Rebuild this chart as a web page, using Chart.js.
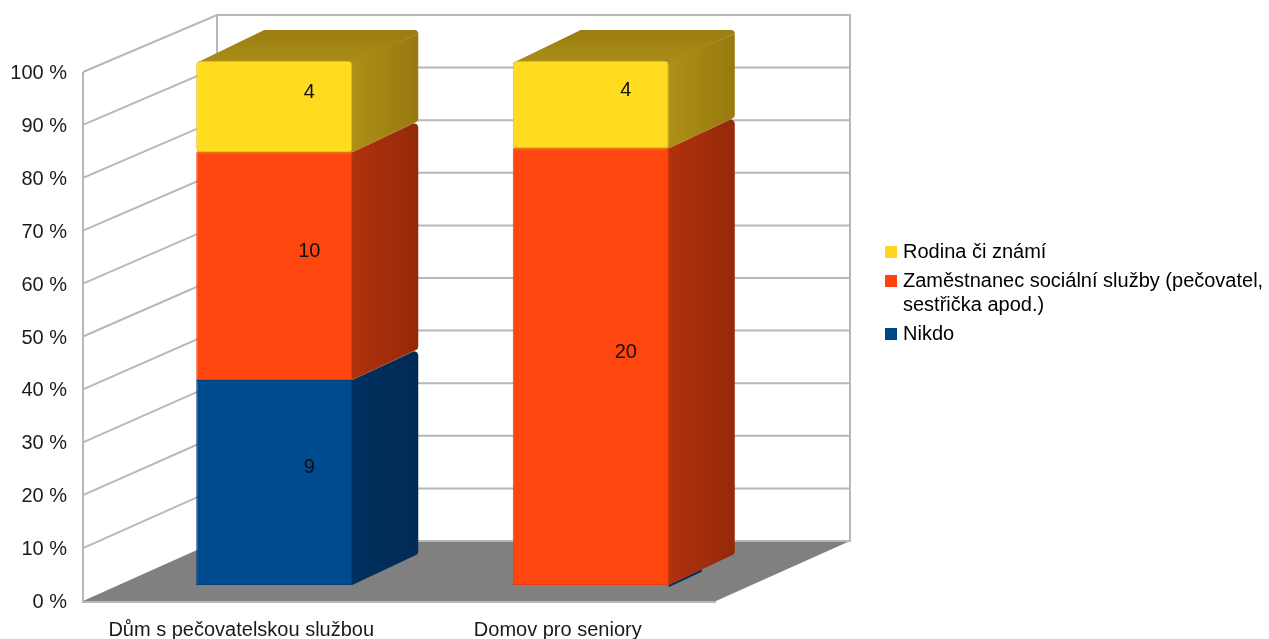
<!DOCTYPE html>
<html>
<head>
<meta charset="utf-8">
<style>html,body{margin:0;padding:0;background:#fff}canvas{display:block}</style>
<script src="https://cdn.jsdelivr.net/npm/chart.js@4/dist/chart.umd.min.js"></script>
</head>
<body>
<canvas id="c" width="1269" height="639"></canvas>
<script>
// Respondent counts per facility type
const categories = ['Dům s pečovatelskou službou', 'Domov pro seniory'];
const nikdo = [9, 0];
const zamestnanec = [10, 20];
const rodina = [4, 4];
const seriesNames = ['Nikdo', ['Zaměstnanec sociální služby (pečovatel,', 'sestřička apod.)'], 'Rodina či známí'];

// Palette: front face, then the shaded side from near edge to far edge
const frontColors = ['#004a8f', '#ff460e', '#ffdc1f'];
const edgeColors = ['#00407c', '#e83c0a', '#e0bc18'];
const sideNear = ['#00305f', '#b0320c', '#ad9018'];
const sideFar = ['#002b54', '#952909', '#97790f'];
const topNear = ['#00305f', '#b0320c', '#a98d16'];
const topFar = ['#002b54', '#952909', '#9b7c11'];

const rows = [nikdo, zamestnanec, rodina];
const totals = categories.map((_, i) => rows.reduce((s, r) => s + r[i], 0));
const share = r => r.map((v, i) => v / totals[i] * 100);

// Oblique projection: depth of a bar, and of the room behind the bars
const BAR_DX = 66, BAR_DY = -31;
const SHIFT_X = 33;
const ROOM_DX = 134, BACK_Y0 = 541, BACK_Y100 = 15;
const CORNER = 4;
const FONT = '"Liberation Sans", Arial, sans-serif';
const FS = 20;

const roomAndSides = {
  id: 'roomAndSides',
  afterLayout(chart) {
    // Park the legend in the free column to the right of the room
    const lg = chart.legend;
    lg.left = 884; lg.right = 1269; lg.top = 237; lg.bottom = 630;
  },
  beforeDatasetsDraw(chart) {
    const { ctx, chartArea: a, scales } = chart;
    const y = scales.y;
    const backRight = a.right + ROOM_DX, backLeft = a.left + ROOM_DX;
    const backY = v => BACK_Y0 + (BACK_Y100 - BACK_Y0) * v / 100;
    ctx.save();
    // floor
    ctx.fillStyle = '#808080';
    ctx.beginPath();
    ctx.moveTo(a.left, y.getPixelForValue(0));
    ctx.lineTo(a.right, y.getPixelForValue(0));
    ctx.lineTo(backRight, BACK_Y0);
    ctx.lineTo(backLeft, BACK_Y0);
    ctx.closePath();
    ctx.fill();
    // wall grid
    ctx.strokeStyle = '#b8b8b8';
    ctx.lineWidth = 2;
    ctx.lineJoin = 'miter';
    y.ticks.forEach(t => {
      ctx.beginPath();
      if (t.value > 0) ctx.moveTo(a.left, y.getPixelForValue(t.value));
      else ctx.moveTo(backLeft, backY(0));
      ctx.lineTo(backLeft, backY(t.value));
      ctx.lineTo(backRight, backY(t.value));
      ctx.stroke();
    });
    ctx.beginPath();
    ctx.moveTo(a.left, y.getPixelForValue(100));
    ctx.lineTo(a.left, y.getPixelForValue(0) + 1);
    ctx.lineTo(a.right, y.getPixelForValue(0) + 1);
    ctx.stroke();
    ctx.beginPath();
    ctx.moveTo(backLeft, backY(100));
    ctx.lineTo(backLeft, backY(0));
    ctx.moveTo(backRight, backY(100) - 1);
    ctx.lineTo(backRight, backY(0) + 1);
    ctx.stroke();

    // side and top faces, lower segments first
    ctx.translate(SHIFT_X, 0);
    const lastDrawn = categories.map((_, i) => rows.reduce((m, r, d) => (r[i] ? d : m), 0));
    chart.data.datasets.forEach((ds, d) => {
      chart.getDatasetMeta(d).data.forEach((el, i) => {
        const p = el.getProps(['x', 'y', 'base', 'width'], true);
        const L = p.x - p.width / 2, R = p.x + p.width / 2;
        const side = ctx.createLinearGradient(R, 0, R + BAR_DX, 0);
        side.addColorStop(0, sideNear[d]);
        side.addColorStop(1, sideFar[d]);
        if (!rows[d][i]) {
          // an empty segment only leaves a dark sliver along the bar's foot
          ctx.strokeStyle = side;
          ctx.lineWidth = 2;
          ctx.beginPath();
          ctx.moveTo(R, p.base + 1);
          ctx.lineTo(R + BAR_DX / 2, p.base + BAR_DY / 2 + 1);
          ctx.stroke();
          return;
        }
        const isTop = d === lastDrawn[i];
        ctx.fillStyle = side;
        ctx.beginPath();
        ctx.moveTo(R - 2, p.y);
        ctx.lineTo(R, p.y);
        if (isTop) ctx.lineTo(R + BAR_DX, p.y + BAR_DY + CORNER);
        else ctx.arcTo(R + BAR_DX, p.y + BAR_DY, R + BAR_DX, p.base + BAR_DY, CORNER);
        ctx.arcTo(R + BAR_DX, p.base + BAR_DY, R, p.base, CORNER);
        ctx.lineTo(R, p.base);
        ctx.lineTo(R - 2, p.base);
        ctx.closePath();
        ctx.fill();
        // backing strip so stacked segments meet without a pale seam
        if (rows.slice(0, d).some(r => r[i])) {
          ctx.fillStyle = edgeColors[d];
          ctx.fillRect(L + 1, p.base - 1.5, p.width - 2, 3);
        }
        if (!isTop) return;
        const top = ctx.createLinearGradient(0, p.y + BAR_DY, 0, p.y);
        top.addColorStop(0, topFar[d]);
        top.addColorStop(1, topNear[d]);
        ctx.fillStyle = top;
        ctx.beginPath();
        ctx.moveTo(L + 2, p.y + 1);
        ctx.lineTo(L + BAR_DX + 2, p.y + BAR_DY);
        ctx.arcTo(R + BAR_DX, p.y + BAR_DY, R + BAR_DX, p.y + BAR_DY + CORNER, CORNER);
        ctx.lineTo(R + BAR_DX, p.y + BAR_DY + CORNER);
        ctx.lineTo(R, p.y + 1);
        ctx.closePath();
        ctx.fill();
      });
    });
    ctx.restore();
    // front faces are drawn by the bar controller, shifted back into the room
    ctx.save();
    ctx.translate(SHIFT_X, 0);
  },
  afterDatasetsDraw(chart) {
    const { ctx } = chart;
    ctx.restore();
    ctx.save();
    ctx.fillStyle = '#111';
    ctx.font = FS + 'px ' + FONT;
    ctx.textAlign = 'center';
    ctx.textBaseline = 'middle';
    rows.forEach((row, d) => {
      chart.getDatasetMeta(d).data.forEach((el, i) => {
        if (!row[i]) return;
        const p = el.getProps(['x', 'y', 'base'], true);
        ctx.fillText(String(row[i]), p.x + SHIFT_X + 35, (p.y + p.base) / 2 - 14.5);
      });
    });
    ctx.restore();
  }
};

new Chart(document.getElementById('c'), {
  type: 'bar',
  data: {
    labels: categories,
    datasets: rows.map((r, d) => ({
      label: seriesNames[d],
      data: share(r),
      yAxisID: 'yBars',
      backgroundColor: frontColors[d],
      borderColor: edgeColors[d],
      borderWidth: c => (c.parsed && c.parsed.y === 0 ? 0 : 1),
      borderSkipped: false,
      borderRadius: CORNER,
      barPercentage: 0.493,
      categoryPercentage: 1,
      clip: false
    }))
  },
  options: {
    responsive: false,
    animation: false,
    layout: { padding: { left: 0, right: 552, top: 72, bottom: 0 } },
    plugins: {
      tooltip: { enabled: false },
      legend: {
        position: 'right',
        align: 'start',
        maxWidth: 1,
        labels: {
          color: '#1a1a1a',
          font: { family: FONT, size: FS, lineHeight: 1.2 },
          usePointStyle: true,
          pointStyle: 'rect',
          boxWidth: 4,
          boxHeight: 12,
          padding: 5,
          generateLabels: chart => chart.data.datasets.map((ds, i) => ({
            text: [].concat(ds.label),
            fillStyle: ['#004586', '#ff420e', '#ffd320'][i],
            strokeStyle: 'transparent',
            lineWidth: 0,
            pointStyle: 'rect',
            datasetIndex: i
          })).reverse()
        }
      }
    },
    scales: {
      x: {
        stacked: true,
        grid: { display: false, drawTicks: false },
        border: { display: false },
        ticks: { color: '#1a1a1a', font: { family: FONT, size: FS }, padding: 17, maxRotation: 0, autoSkip: false },
        afterFit: s => { s.height = 38; }
      },
      y: {
        min: 0, max: 100,
        grid: { display: false, drawTicks: false },
        border: { display: false },
        ticks: { stepSize: 10, color: '#1a1a1a', font: { family: FONT, size: FS }, padding: 16, labelOffset: 1.5, callback: v => v + ' %' },
        afterFit: s => { s.width = 83; }
      },
      // Bars stand further back, where the same percentage scale is slightly tighter
      yBars: {
        display: false,
        stacked: true,
        min: -16 / 5.24,
        max: (585 - 72) / 5.24
      }
    }
  },
  plugins: [roomAndSides]
});
</script>
</body>
</html>
